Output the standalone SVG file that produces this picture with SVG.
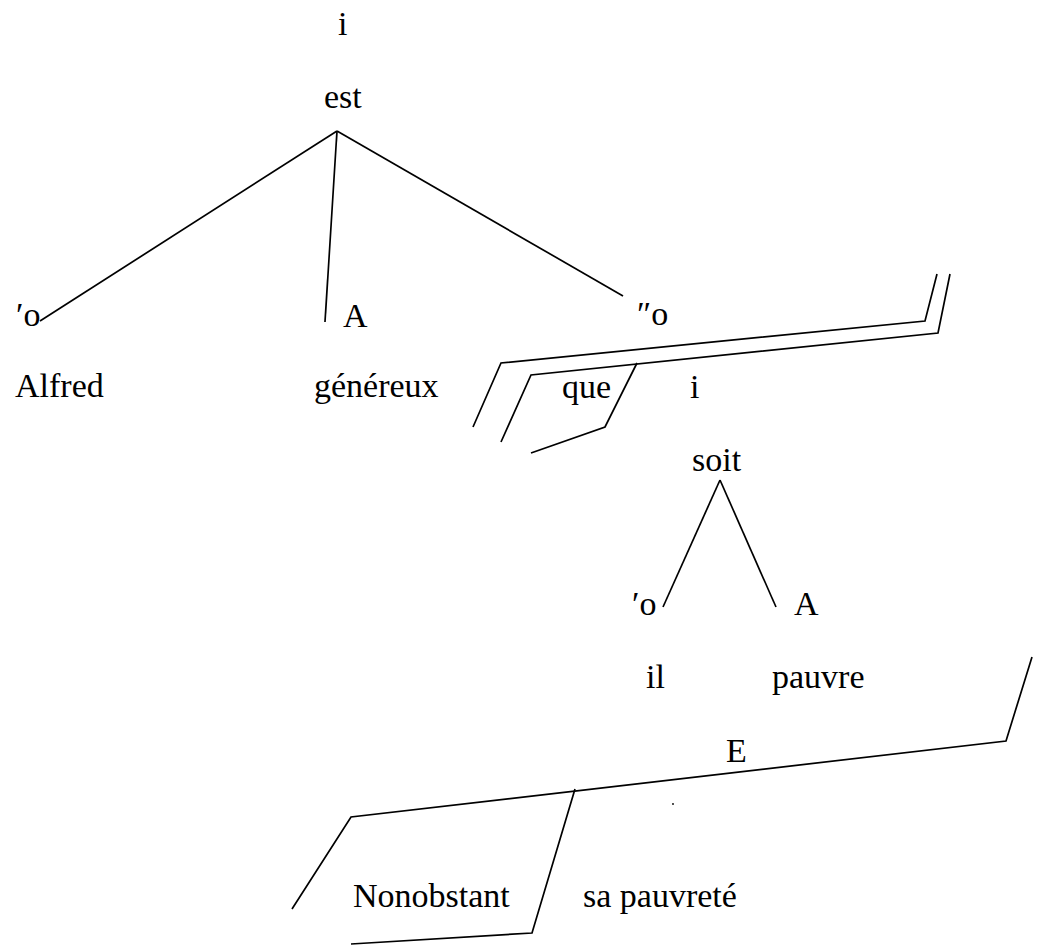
<svg xmlns="http://www.w3.org/2000/svg" width="1042" height="945" viewBox="0 0 1042 945">
<style>
text{font-family:"Liberation Serif","Times New Roman",serif;font-size:34px;fill:#000}
.ln{fill:none;stroke:#000;stroke-width:1.7;stroke-linejoin:miter}
</style>
<rect width="1042" height="945" fill="#fff"/>
<g id="connectors">
<path class="ln" d="M337,131 L40,321"/>
<path class="ln" d="M337,131 L325,322"/>
<path class="ln" d="M337,131 L623,296"/>
<path class="ln" d="M473,427 L501,363 L925,321 L937,274"/>
<path class="ln" d="M501,442 L531,375 L938,333 L950,274"/>
<path class="ln" d="M637,363 L605,427 L531,453"/>
<path class="ln" d="M720,480 L663,607"/>
<path class="ln" d="M720,480 L776,607"/>
<path class="ln" d="M292,909 L351,817 L1006,741 L1032,657"/>
<path class="ln" d="M575,789 L532,933 L351,944"/>
</g>
<g id="n-i1"><text x="338" y="35">i</text></g>
<g id="n-est"><text x="324" y="108">est</text></g>
<g id="n-o1"><text x="16" y="326">′o</text></g>
<g id="n-A1"><text x="343" y="327">A</text></g>
<g id="n-o2"><text x="637" y="325">″o</text></g>
<g id="n-alfred"><text x="15" y="397">Alfred</text></g>
<g id="n-genereux"><text x="314" y="397">généreux</text></g>
<g id="n-que"><text x="562" y="398">que</text></g>
<g id="n-i2"><text x="690" y="398">i</text></g>
<g id="n-soit"><text x="692" y="471">soit</text></g>
<g id="n-o3"><text x="632" y="615">′o</text></g>
<g id="n-A2"><text x="794" y="615">A</text></g>
<g id="n-il"><text x="646" y="688">il</text></g>
<g id="n-pauvre"><text x="772" y="688">pauvre</text></g>
<g id="n-E"><text x="726" y="762">E</text></g>
<g id="n-dot"><circle cx="673" cy="804" r="0.9" fill="#000"/></g>
<g id="n-nonobstant"><text x="353" y="907">Nonobstant</text></g>
<g id="n-sapauvrete"><text x="583" y="907">sa pauvreté</text></g>
</svg>
